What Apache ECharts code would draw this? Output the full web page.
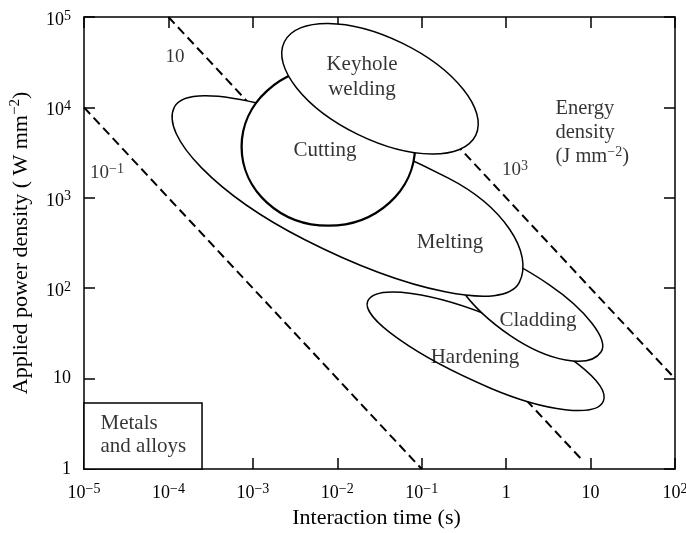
<!DOCTYPE html>
<html><head><meta charset="utf-8">
<script src="https://cdn.jsdelivr.net/npm/echarts@6/dist/echarts.min.js"></script>
<style>html,body{margin:0;padding:0;background:#fff}#c{width:686px;height:533px}</style>
</head><body><div id="c"></div>
<script>
// ---- data ----
const xTicks = [1e-5, 1e-4, 1e-3, 1e-2, 1e-1, 1, 10, 100];
const xTickLabels = ['10^-5', '10^-4', '10^-3', '10^-2', '10^-1', '1', '10', '10^2'];
const yTicks = [1, 10, 100, 1e3, 1e4, 1e5];
const yTickLabels = ['1', '10', '10^2', '10^3', '10^4', '10^5'];

// Constant energy density lines E = P*t (J mm^-2): visible runs, points [t (s), P (W mm^-2)]
const line01 = [[1e-5, 1e4], [1e-1, 1]];
const line10Upper = [[1e-4, 1e5], [0.032, 312]];
const line10Lower = [[0.216, 46.3], [8, 1.25]];
const line1000 = [[0.25, 4000], [100, 10]];

// Process regions: left tip, right tip, upper-most point, lower-most point [t, P]
const regionNames = ['Hardening', 'Cladding', 'Melting', 'Cutting', 'Keyhole welding'];
const hardening = [[2.29e-2, 71.6], [14.15, 5.61], [0.803, 45.4], [0.653, 7.83]];
const cladding = [[0.2334, 256.6], [13.29, 19.69], [3.217, 109.6], [1.120, 29.91]];
const melting = [[1.177e-4, 10100], [1.427, 115.0], [0.2042, 1660], [4.077e-3, 345.7]];
const cutting = [[7.356e-4, 3676], [8.326e-2, 3676], [7.826e-3, 27500], [7.826e-3, 491.4]];
const keyhole = [[2.357e-3, 52900], [0.4359, 4900], [5.872e-2, 51440], [1.749e-2, 5040]];

const regionLabels = ['Keyhole\nwelding', 'Cutting', 'Melting', 'Cladding', 'Hardening'];
const regionLabelPoints = [[1.962e-2, 21700], [7.152e-3, 3379], [0.2163, 324.4], [2.384, 44.49], [0.4277, 17.34]];
const lineLabels = ['10', '10^-1', '10^3'];
const lineLabelPoints = [[1.196e-4, 36090], [1.873e-5, 1881], [1.273, 2030]];
const energyLabel = ['Energy\ndensity\n(J mm^-2)'];
const energyLabelPoint = [[3.79, 5210]];
const metalsBox = [[1e-5, 1], [2.5e-4, 5.37]];
const metalsLabel = ['Metals\nand alloys'];
const metalsLabelPoint = [[1.548e-5, 2.377]];

// ---- styling ----
const FONT = "'Liberation Serif', 'Times New Roman', serif";
function rich(text, base) {
  base = base || 'b';
  return '{' + base + '|' + text.replace(/\^(-?\d+)/g, (m, e) => '}{s|' + e.replace('-', '\u2212') + '}{' + base + '|') + '}';
}
function makeRich(size, lh, supSize, shift) {
  const sh = shift || 0;
  return {
    b: { fontFamily: FONT, fontSize: size, lineHeight: lh, color: '#000' },
    c: { fontFamily: FONT, fontSize: size, lineHeight: lh, color: '#000', padding: [sh, 0, 0, 0] },
    s: { fontFamily: FONT, fontSize: supSize, lineHeight: Math.round(supSize * 1.1), verticalAlign: 'top', color: '#000', padding: [Math.round(sh / 2), 0, 0, 0] }
  };
}
function tickText(ticks, labels, v, shiftSup) {
  const e = Math.round(Math.log10(v));
  const idx = ticks.findIndex(t => Math.round(Math.log10(t)) === e);
  if (idx < 0) return '';
  const lab = labels[idx];
  return rich(lab, shiftSup && lab.indexOf('^') >= 0 ? 'c' : 'b');
}
const axisLineStyle = { show: true, onZero: false, lineStyle: { color: '#000', width: 1.5 } };
const axisTickStyle = { show: true, inside: true, length: 11, lineStyle: { color: '#000', width: 1.5 } };
const outlineWidth = { 'Cutting': 2.3 };

function regionItem(params, api) {
  const L = api.coord([api.value(0), api.value(1)]);
  const R = api.coord([api.value(2), api.value(3)]);
  const U = api.coord([api.value(4), api.value(5)]);
  const D = api.coord([api.value(6), api.value(7)]);
  const ex = R[0] - L[0], ey = R[1] - L[1];
  const len = Math.hypot(ex, ey);
  const e = [ex / len, ey / len], n = [-e[1], e[0]];
  const proj = p => { const dx = p[0] - L[0], dy = p[1] - L[1]; return [dx * e[0] + dy * e[1], dx * n[0] + dy * n[1]]; };
  const [uU, vU] = proj(U), [uD, vD] = proj(D);
  const k = 0.5523;
  const pt = (u, v) => (L[0] + u * e[0] + v * n[0]).toFixed(2) + ' ' + (L[1] + u * e[1] + v * n[1]).toFixed(2);
  const d = 'M ' + pt(0, 0) +
    ' C ' + pt(0, k * vU) + ' ' + pt(uU - k * uU, vU) + ' ' + pt(uU, vU) +
    ' C ' + pt(uU + k * (len - uU), vU) + ' ' + pt(len, k * vU) + ' ' + pt(len, 0) +
    ' C ' + pt(len, k * vD) + ' ' + pt(uD + k * (len - uD), vD) + ' ' + pt(uD, vD) +
    ' C ' + pt(uD - k * uD, vD) + ' ' + pt(0, k * vD) + ' ' + pt(0, 0) + ' Z';
  return {
    type: 'path',
    shape: { pathData: d },
    style: { fill: '#fff', stroke: '#000', lineWidth: outlineWidth[regionNames[params.dataIndex]] || 1.5 }
  };
}
function boxItem(params, api) {
  const a = api.coord([api.value(0), api.value(1)]);
  const b = api.coord([api.value(2), api.value(3)]);
  return {
    type: 'rect',
    shape: { x: Math.min(a[0], b[0]), y: Math.min(a[1], b[1]), width: Math.abs(b[0] - a[0]), height: Math.abs(b[1] - a[1]) },
    style: { fill: '#fff', stroke: '#000', lineWidth: 1.5 }
  };
}
function dashed(data) {
  return { type: 'line', data: data, symbol: 'none', silent: true, z: 2,
    lineStyle: { color: '#000', width: 2, type: [9, 5] } };
}
function textSeries(points, texts, position, size, lh) {
  return {
    type: 'scatter', data: points, symbolSize: 1, silent: true, z: 10,
    itemStyle: { color: 'rgba(0,0,0,0)' },
    label: { show: true, position: position, distance: 0, formatter: p => rich(texts[p.dataIndex]), rich: makeRich(size, lh, 14) }
  };
}

const chart = echarts.init(document.getElementById('c'));
chart.setOption({
  animation: false,
  backgroundColor: '#fff',
  grid: { left: 84, right: 11, top: 17, bottom: 64, outerBoundsMode: 'none' },
  xAxis: [
    { type: 'log', logBase: 10, min: 1e-5, max: 100, position: 'bottom',
      axisLine: axisLineStyle, axisTick: axisTickStyle, splitLine: { show: false }, minorTick: { show: false },
      axisLabel: { margin: 13, formatter: v => tickText(xTicks, xTickLabels, v, false), rich: makeRich(18, 22, 14) },
      name: 'Interaction time (s)', nameLocation: 'middle', nameGap: 38,
      nameTextStyle: { fontFamily: FONT, fontSize: 22, color: '#000', padding: [0, 6, 0, 0] } },
    { type: 'log', logBase: 10, min: 1e-5, max: 100, position: 'top',
      axisLine: axisLineStyle, axisTick: axisTickStyle, splitLine: { show: false }, axisLabel: { show: false } }
  ],
  yAxis: [
    { type: 'log', logBase: 10, min: 1, max: 1e5, position: 'left',
      axisLine: axisLineStyle, axisTick: axisTickStyle, splitLine: { show: false }, minorTick: { show: false },
      axisLabel: { margin: 13, formatter: v => tickText(yTicks, yTickLabels, v, true), rich: makeRich(18, 22, 14, 6) },
      name: rich('Applied power density ( W mm^-2)'), nameLocation: 'middle', nameGap: 50, nameRotate: 90,
      nameTextStyle: { rich: makeRich(22, 26, 15) } },
    { type: 'log', logBase: 10, min: 1, max: 1e5, position: 'right',
      axisLine: axisLineStyle, axisTick: axisTickStyle, splitLine: { show: false }, axisLabel: { show: false } }
  ],
  series: [
    dashed(line01), dashed(line10Upper), dashed(line10Lower), dashed(line1000),
    { type: 'custom', renderItem: regionItem, silent: true, z: 3,
      encode: { x: [0, 2, 4, 6], y: [1, 3, 5, 7] },
      data: [hardening, cladding, melting, cutting, keyhole].map(r => r.flat()) },
    { type: 'custom', renderItem: boxItem, silent: true, z: 3,
      encode: { x: [0, 2], y: [1, 3] }, data: [metalsBox.flat()] },
    textSeries(regionLabelPoints, regionLabels, 'inside', 21, 25),
    textSeries(lineLabelPoints, lineLabels, 'inside', 19, 22),
    textSeries(energyLabelPoint, energyLabel, 'right', 20.5, 24),
    textSeries(metalsLabelPoint, metalsLabel, 'right', 21, 23)
  ]
});
</script></body></html>
